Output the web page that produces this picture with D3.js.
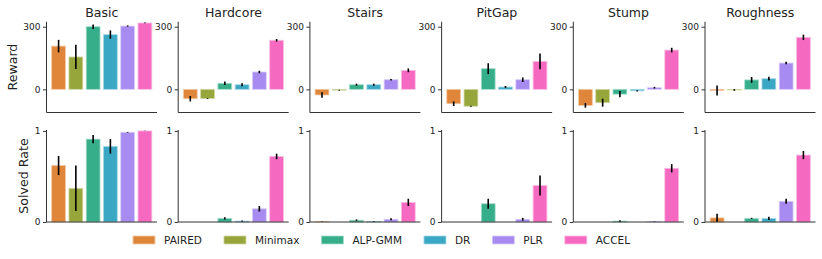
<!DOCTYPE html>
<html lang="en">
<head>
<meta charset="UTF-8">
<title>Reward and Solved Rate by environment</title>
<script src="https://d3js.org/d3.v7.min.js"></script>
<style>
  body { margin: 0; background: #fff; }
  svg text { font-family: "DejaVu Sans", sans-serif; fill: #222; }
</style>
</head>
<body>
<div id="chart"></div>
<script>
// data
const envs = ["Basic", "Hardcore", "Stairs", "PitGap", "Stump", "Roughness"];
const methods = ["PAIRED", "Minimax", "ALP-GMM", "DR", "PLR", "ACCEL"];
const colors = ["#e0863a", "#97a63a", "#36ae8a", "#3aa8c4", "#a88bf0", "#f56ac0"];

// mean reward per env (rows) and method (cols), and error bar half widths
const rewardMean = [
  [207, 155, 300, 262, 303, 318],
  [-45, -44, 29, 22, 83, 235],
  [-27, -4, 22, 22, 46, 91],
  [-69, -81, 99, 11, 46, 134],
  [-77, -64, -23, -7, 8, 188],
  [-6, -3, 45, 51, 126, 249]
];
const rewardErr = [
  [30, 58, 11, 20, 3, 2],
  [13, 2, 8, 7, 6, 6],
  [13, 2, 5, 5, 4, 9],
  [11, 2, 26, 5, 11, 38],
  [11, 19, 15, 3, 4, 11],
  [24, 4, 14, 9, 6, 13]
];
const rateMean = [
  [0.62, 0.37, 0.91, 0.83, 0.985, 1.0],
  [0, 0, 0.04, 0.01, 0.145, 0.72],
  [0.003, 0, 0.02, 0.005, 0.03, 0.215],
  [0, 0, 0.2, 0, 0.03, 0.40],
  [0, 0, 0.01, 0, 0.003, 0.59],
  [0.045, 0, 0.04, 0.04, 0.227, 0.735]
];
const rateErr = [
  [0.105, 0.25, 0.045, 0.08, 0.004, 0.002],
  [0, 0, 0.012, 0.006, 0.03, 0.03],
  [0.002, 0, 0.008, 0.004, 0.01, 0.04],
  [0, 0, 0.055, 0, 0.015, 0.11],
  [0, 0, 0.01, 0, 0.003, 0.045],
  [0.045, 0, 0.006, 0.018, 0.027, 0.045]
];
const rewardTicks = [0, 300];
const rateTicks = [0, 1];

const W = 822, H = 259;
const svg = d3.select("#chart").append("svg")
  .attr("width", W).attr("height", H);

const panelLeft = 46.5, panelStep = 131.7, panelW = 110.5;

const x = d3.scaleLinear().domain([-0.7, 5.7]).range([0, panelW]);
const barW = x(0.8) - x(0);

const rows = [
  { label: "Reward", mean: rewardMean, err: rewardErr, ticks: rewardTicks,
    y: d3.scaleLinear().domain([-111, 324]).range([112.5, 21.7]), labelX: 17 },
  { label: "Solved Rate", mean: rateMean, err: rateErr, ticks: rateTicks,
    y: d3.scaleLinear().domain([0, 1.01]).range([222, 130]), labelX: 28 }
];

rows.forEach((row, ri) => {
  const y = row.y;
  const [yBot, yTop] = y.range();

  envs.forEach((env, ei) => {
    const g = svg.append("g")
      .attr("transform", `translate(${panelLeft + ei * panelStep},0)`);

    // bars
    g.selectAll("rect.bar")
      .data(row.mean[ei])
      .join("rect")
      .attr("class", "bar")
      .attr("x", (d, i) => x(i) - barW / 2)
      .attr("y", d => Math.min(y(d), y(0)))
      .attr("width", barW)
      .attr("height", d => Math.abs(y(d) - y(0)))
      .attr("fill", (d, i) => colors[i])
      .attr("stroke", (d, i) => d3.interpolateRgb(colors[i], "#fff")(0.55))
      .attr("stroke-width", 0.8);

    // error bars
    g.selectAll("line.err")
      .data(row.mean[ei])
      .join("line")
      .attr("class", "err")
      .attr("x1", (d, i) => x(i))
      .attr("x2", (d, i) => x(i))
      .attr("y1", (d, i) => y(d - row.err[ei][i]))
      .attr("y2", (d, i) => y(d + row.err[ei][i]))
      .attr("stroke", "#000")
      .attr("stroke-width", 1.6);

    // y axis
    const ax = g.append("g")
      .call(d3.axisLeft(y).tickValues(row.ticks).tickSize(3.5).tickPadding(2.5)
        .tickFormat(d3.format("d")));
    ax.select(".domain").attr("d", `M0,${yTop}V${yBot}`)
      .attr("stroke", "#333").attr("stroke-width", 1);
    ax.selectAll(".tick line").attr("stroke", "#333");
    ax.selectAll(".tick text").attr("font-size", 9).attr("fill", "#222")
      .attr("font-family", "DejaVu Sans, sans-serif");

    // bottom spine
    g.append("line")
      .attr("x1", 0).attr("x2", panelW)
      .attr("y1", yBot).attr("y2", yBot)
      .attr("stroke", "#333").attr("stroke-width", 1);

    if (ri === 0) {
      g.append("text")
        .attr("x", panelW / 2).attr("y", 17)
        .attr("text-anchor", "middle")
        .attr("font-size", 12.5)
        .text(env);
    }
  });

  svg.append("text")
    .attr("transform", `translate(${row.labelX},${(yTop + yBot) / 2}) rotate(-90)`)
    .attr("text-anchor", "middle")
    .attr("font-size", 12.6)
    .text(row.label);
});

// legend
const legend = svg.append("g").attr("transform", "translate(133,240)");
let lx = 0;
methods.forEach((m, i) => {
  legend.append("rect")
    .attr("x", lx).attr("y", -4)
    .attr("width", 22).attr("height", 8)
    .attr("fill", colors[i])
    .attr("stroke", d3.interpolateRgb(colors[i], "#fff")(0.55))
    .attr("stroke-width", 0.8);
  const t = legend.append("text")
    .attr("x", lx + 31).attr("y", 4)
    .attr("font-size", 10.5)
    .text(m);
  lx += 31 + t.node().getComputedTextLength() + 22;
});
</script>
</body>
</html>
